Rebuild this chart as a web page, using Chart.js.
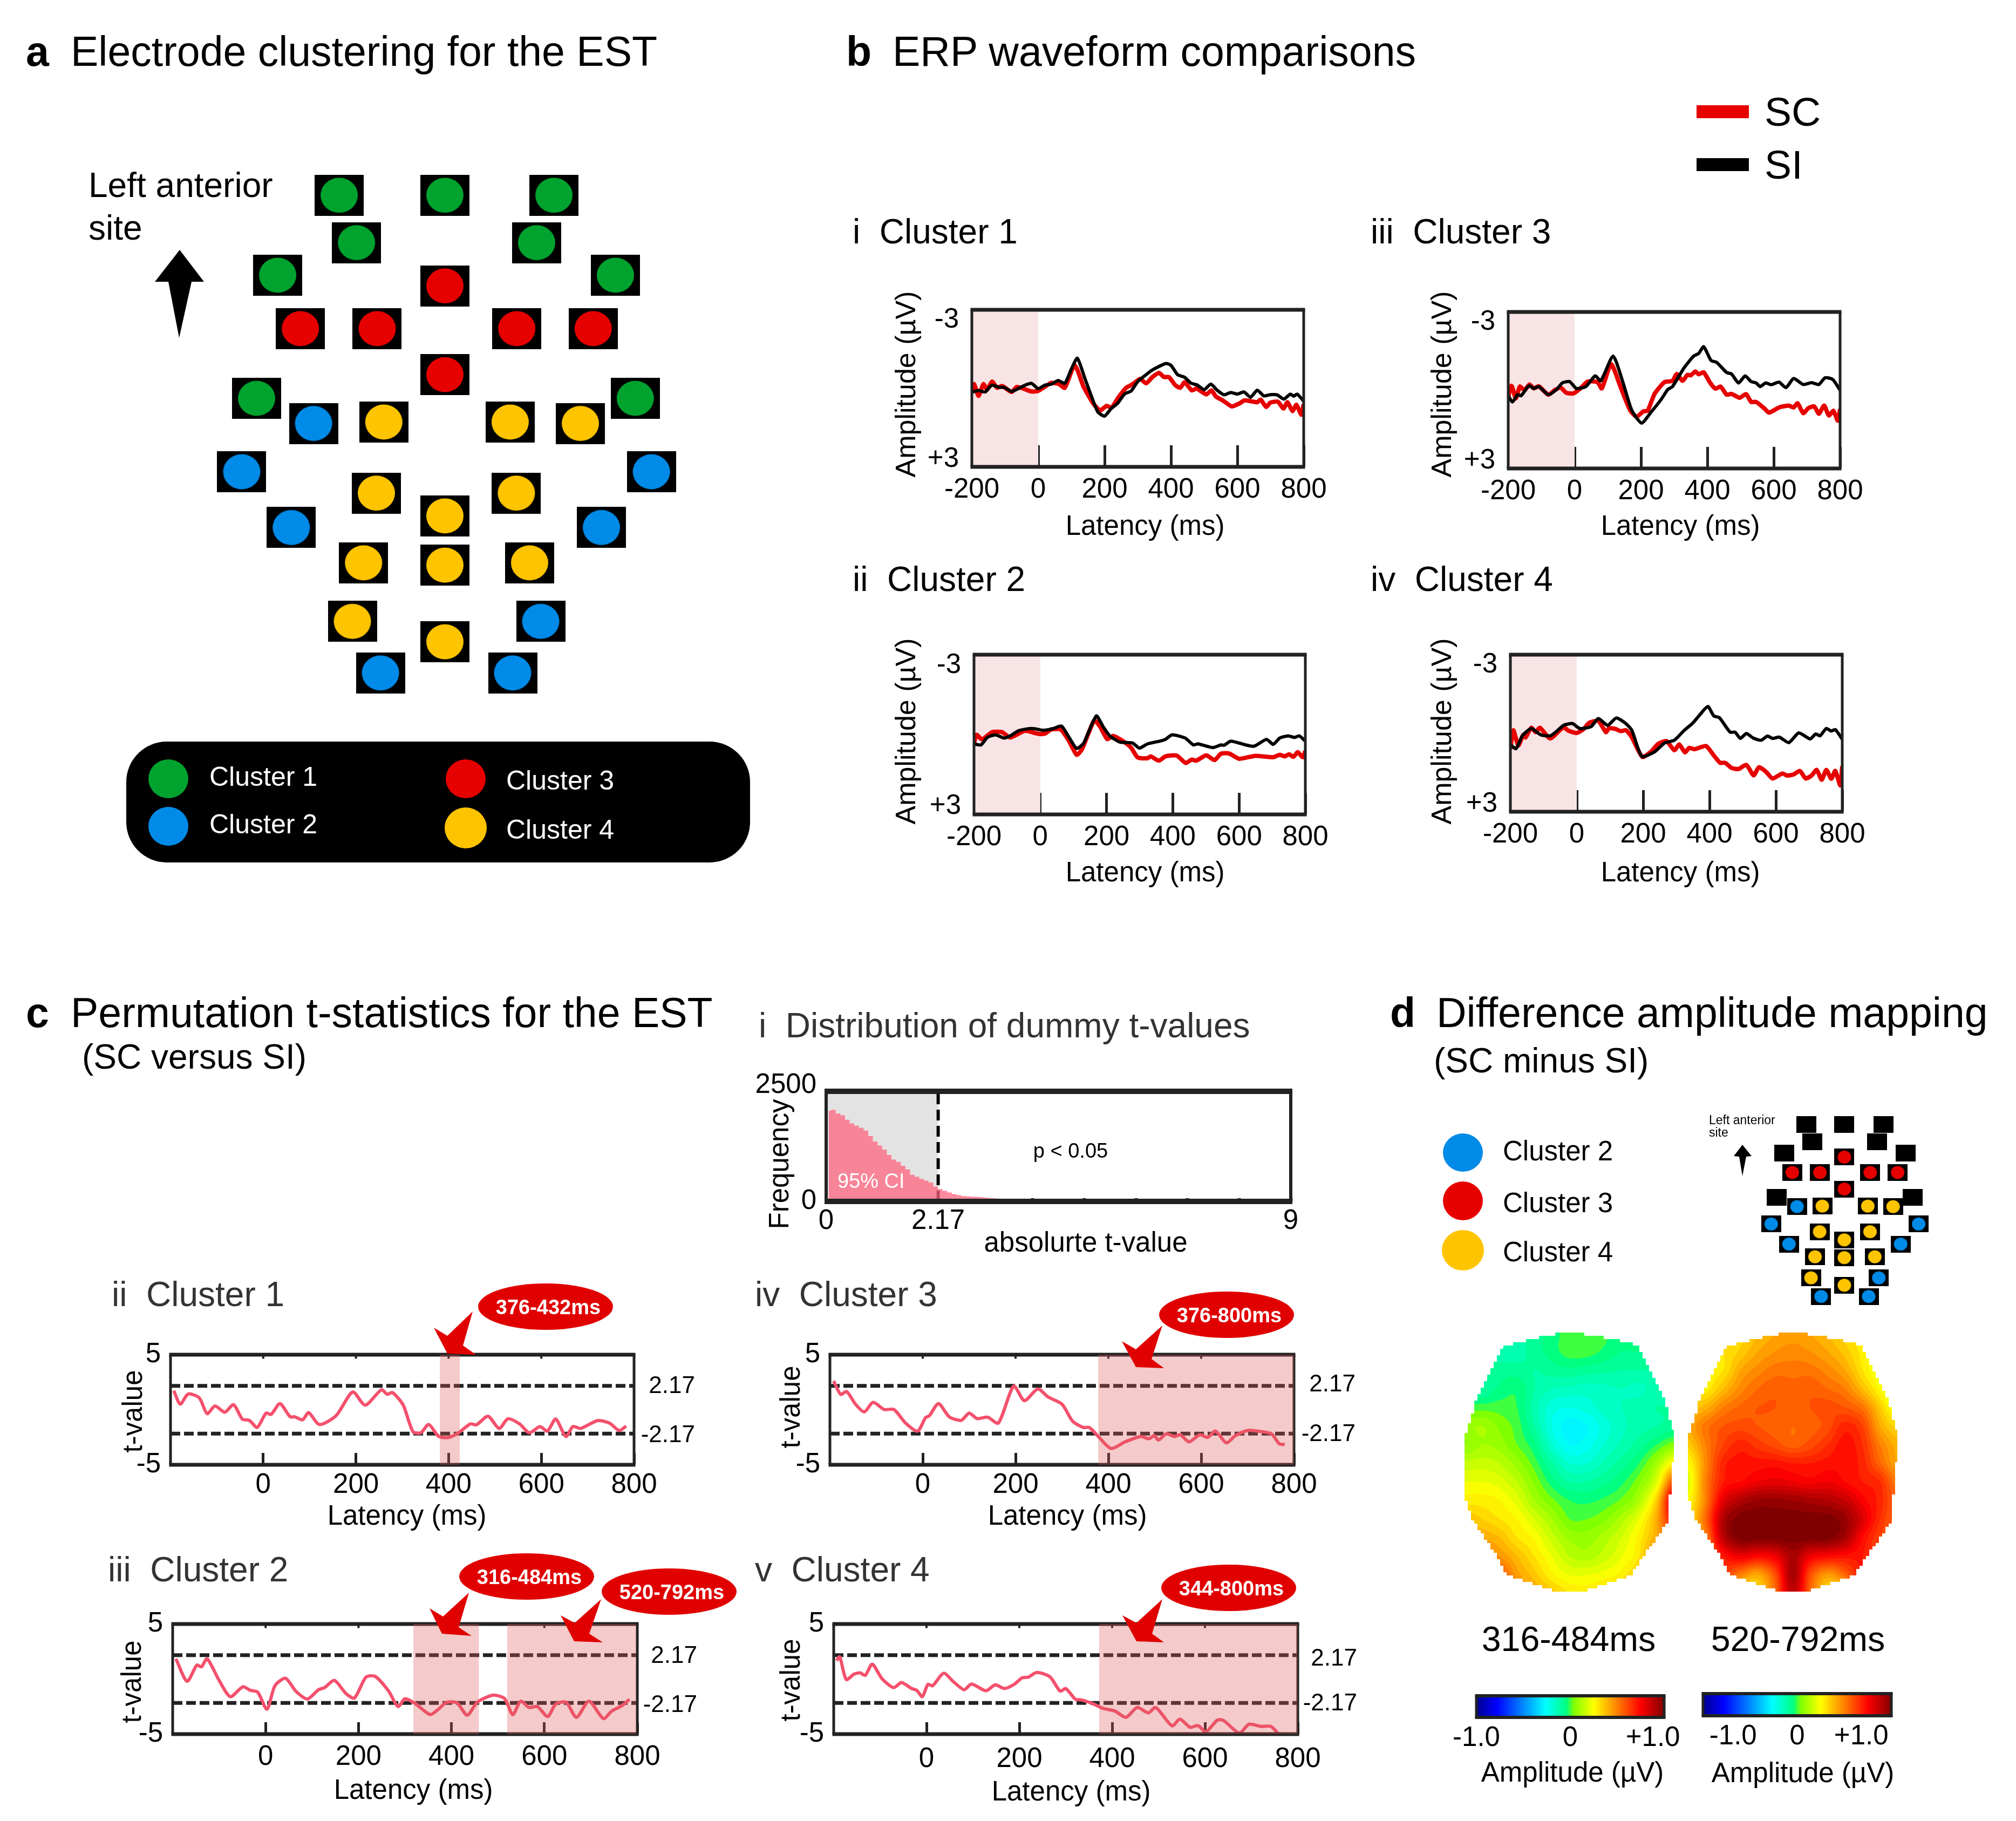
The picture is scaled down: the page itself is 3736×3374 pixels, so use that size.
<!DOCTYPE html>
<html>
<head>
<meta charset="utf-8">
<script src="https://cdn.jsdelivr.net/npm/chart.js@4"></script>
<style>
    html, body { margin: 0; padding: 0; background: #fff; }
    #page { position: relative; width: 3736px; height: 3374px; overflow: hidden; font-family: "Liberation Sans", Arial, sans-serif; }
    #page canvas { position: absolute; }
    .txt { position: absolute; white-space: pre; line-height: 1; z-index: 5; }
    svg { position: absolute; left: 0; top: 0; z-index: 4; }
</style>
</head>
<body>
<div id="page"></div>
<script>
// ---- panel b: ERP waveforms, [latency ms, amplitude uV] ----
const erp1Si = [[-200,.15],[-180,.08],[-160,.14],[-140,-.12],[-120,-.05],[-100,-.02],[-80,.12],[-60,.01],[-40,-.12],[-20,-.19],[0,.01],[20,-.12],[40,-.16],[60,-.3],[80,-.19],[100,-.74],[118,-1.15],[140,-.4],[160,.29],[180,.91],[200,1.06],[220,.77],[240,.56],[260,.22],[280,.1],[300,-.26],[320,-.47],[340,-.67],[360,-.81],[385,-.95],[400,-.88],[420,-.52],[440,-.43],[460,-.2],[480,-.12],[500,.05],[520,-.16],[540,.08],[560,.25],[580,.16],[600,.22],[620,.14],[640,.34],[660,.07],[680,.29],[700,.24],[720,.25],[740,.41],[760,.22],[770,.3],[780,.22],[800,.49]];
const erp1Sc = [[-200,.15],[-193,-.16],[-180,.29],[-165,-.16],[-154,.05],[-139,-.26],[-124,-.02],[-109,-.09],[-80,.14],[-65,-.05],[-45,.01],[-21,.12],[-1,.1],[19,-.05],[39,-.21],[63,-.16],[80,-.02],[110,-.88],[137,-.05],[167,.6],[187,.84],[206,.67],[221,.74],[241,.36],[265,-.02],[285,-.16],[307,-.36],[325,-.19],[344,-.43],[364,-.59],[379,-.43],[394,-.43],[413,-.12],[428,-.02],[441,-.23],[463,.08],[477,.01],[507,.23],[522,.08],[536,.32],[556,.46],[583,.69],[606,.58],[622,.46],[660,.53],[670,.43],[687,.71],[699,.55],[722,.51],[739,.77],[751,.53],[766,.87],[778,.63],[793,1.01],[800,.6]];
const erp2Si = [[-200,.35],[-179,.39],[-160,.11],[-135,.01],[-110,.13],[-91,.05],[-66,-.14],[-36,-.22],[-17,-.22],[8,-.16],[38,-.22],[64,-.32],[87,.11],[110,.52],[131,.32],[169,-.7],[190,-.29],[210,.05],[240,.28],[279,.32],[299,.51],[324,.35],[363,.24],[378,.18],[398,.01],[437,.13],[462,.39],[476,.35],[521,.49],[545,.39],[555,.4],[575,.25],[600,.32],[644,.44],[683,.18],[703,.37],[723,.13],[748,.05],[767,.11],[782,.05],[800,.25]];
const erp2Sc = [[-200,.32],[-192,.01],[-176,.18],[-145,-.09],[-115,-.09],[-91,.11],[-46,-.14],[-7,-.03],[13,-.03],[33,-.19],[62,-.19],[87,.25],[110,.76],[126,.55],[163,-.53],[181,-.29],[202,.17],[220,.05],[250,.25],[274,.49],[294,.86],[324,.89],[333,.82],[358,.98],[378,.82],[412,.79],[439,1.07],[457,.94],[471,.98],[501,.78],[526,.96],[545,.72],[570,.71],[600,.91],[649,.8],[703,.85],[723,.76],[738,.82],[751,.74],[764,.84],[777,.66],[792,.85],[800,.62]];
const erp3Si = [[-200,.21],[-187,.45],[-172,.17],[-161,.21],[-138,-.17],[-123,-.07],[-108,-.14],[-79,.17],[-54,-.03],[-37,-.28],[-15,-.33],[5,-.07],[34,-.14],[62,-.55],[79,-.36],[116,-1.31],[143,-.41],[172,.76],[202,1.26],[231,.83],[261,.35],[281,-.03],[295,-.14],[330,-.86],[359,-1.31],[374,-1.41],[389,-1.67],[411,-1.14],[428,-1.07],[458,-.68],[473,-.62],[494,-.28],[514,-.55],[532,-.33],[547,-.28],[559,-.14],[576,-.28],[593,-.21],[616,-.31],[637,-.1],[660,-.45],[689,-.22],[714,-.29],[736,-.22],[755,-.48],[778,-.41],[800,0]];
const erp3Sc = [[-200,.24],[-190,-.17],[-177,.31],[-165,-.14],[-151,0],[-136,-.22],[-123,-.07],[-108,-.15],[-79,.17],[-59,-.01],[-42,-.1],[-25,.1],[-3,.12],[20,-.1],[39,-.33],[69,-.31],[82,-.07],[110,-1],[138,-.14],[167,.76],[187,1.02],[207,.81],[220,.79],[241,.14],[271,-.31],[295,-.36],[308,-.62],[325,-.36],[340,-.59],[350,-.57],[364,-.72],[374,-.61],[389,-.69],[407,-.31],[424,-.06],[440,-.14],[458,.17],[473,.14],[497,.29],[517,.15],[532,.45],[547,.45],[571,.69],[586,.86],[616,.66],[645,.59],[660,.66],[672,.5],[689,.88],[704,.69],[722,.62],[736,.9],[752,.59],[766,.97],[780,.79],[793,1.17],[800,.72]];
const erp4Si = [[-200,.44],[-183,.59],[-164,.1],[-137,-.18],[-109,.06],[-80,.1],[-60,-.08],[-40,-.3],[-13,-.37],[9,-.18],[43,-.25],[65,-.56],[93,-.3],[119,-.58],[147,-.38],[166,-.11],[196,.89],[235,.71],[265,.37],[294,.27],[324,-.11],[349,-.38],[368,-.66],[395,-1.02],[413,-.66],[430,-.59],[462,-.04],[477,-.04],[493,.2],[511,.01],[531,.18],[555,.27],[575,.11],[590,.2],[610,.15],[639,.36],[669,-.01],[703,.22],[720,.03],[733,.1],[752,-.18],[767,-.08],[779,-.14],[800,.23]];
const erp4Sc = [[-200,.61],[-191,-.11],[-176,.47],[-161,.06],[-154,.16],[-137,-.21],[-124,-.04],[-111,-.21],[-80,.2],[-40,-.23],[-26,-.1],[-1,-.01],[19,-.14],[38,-.4],[65,-.47],[88,-.04],[97,-.19],[117,-.16],[132,-.08],[149,-.11],[166,.16],[198,.91],[226,.68],[245,.41],[270,.3],[294,.65],[309,.43],[326,.73],[339,.56],[354,.61],[368,.56],[390,.49],[413,.85],[432,1.13],[447,1.13],[467,1.33],[487,1.37],[511,1.21],[533,1.61],[549,1.3],[570,1.47],[590,1.73],[620,1.54],[634,1.62],[654,1.57],[672,1.44],[690,1.73],[708,1.61],[723,1.4],[738,1.78],[752,1.4],[767,1.74],[779,1.44],[794,1.99],[800,1.26]];
const erpXTicks = [-200, 0, 200, 400, 600, 800];
const erpBaseline = [[-200, 0]];

// ---- panel c: permutation t-values ----
const tClu1 = [[-193,1.73],[-179,.51],[-162,1.43],[-138,1.08],[-121,-.36],[-104,.34],[-83,-.23],[-64,.46],[-45,-.85],[-30,-.96],[-13,-1.61],[6,-.31],[17,-.42],[36,.55],[58,-.64],[68,-.64],[85,-.91],[98,-.26],[121,-1.34],[157,-.55],[193,1.61],[220,.42],[255,1.81],[268,1.4],[279,1.56],[302,.42],[323,-1.99],[340,-2.1],[357,-1.34],[379,-2.43],[400,-2.51],[421,-2.1],[447,-1.29],[460,-1.37],[485,-.59],[509,-1.7],[528,-.82],[553,-1.29],[574,-2.1],[597,-1.53],[613,-1.94],[631,-.85],[653,-2.43],[668,-1.53],[685,-1.7],[721,-.99],[747,-1.21],[768,-1.89],[783,-1.48]];
const tClu2 = [[-193,1.84],[-169,-.2],[-148,1.27],[-138,1.11],[-126,1.84],[-100,-.12],[-76,-1.6],[-49,-.7],[-33,-1.02],[-17,-1.19],[3,-2.74],[20,-.61],[43,.07],[65,-1.1],[90,-1.81],[114,-.97],[127,-.78],[148,-.12],[172,-1.27],[191,-1.73],[216,.17],[236,.24],[265,-1.1],[285,-2.5],[300,-1.79],[323,-2.25],[354,-3.23],[372,-2.74],[389,-2.12],[412,-2.17],[434,-3.28],[456,-2.09],[489,-1.47],[514,-1.76],[532,-3.23],[549,-2.01],[567,-2.58],[585,-2.5],[607,-3.4],[625,-2.25],[647,-2.12],[669,-3.48],[696,-2.01],[727,-3.59],[745,-2.91],[767,-2.41],[783,-1.84]];
const tClu3 = [[-192,2.62],[-177,1.4],[-164,1.65],[-145,.51],[-126,-.2],[-107,.67],[-83,.02],[-62,.02],[-37,-1.21],[-11,-1.94],[6,-.72],[14,-.55],[34,.55],[57,-.64],[83,-.96],[100,-.31],[117,-.8],[140,-.68],[163,-1.21],[196,2.14],[219,.83],[248,1.89],[270,1.16],[300,.51],[323,-1.04],[346,-1.61],[359,-1.61],[380,-2.51],[406,-3.52],[436,-2.92],[470,-2.43],[487,-2.64],[499,-2.35],[508,-2.75],[525,-2.18],[542,-2.43],[555,-2.27],[574,-2.92],[597,-2.27],[614,-2.51],[631,-1.94],[654,-3],[674,-2.35],[700,-1.89],[721,-1.94],[751,-2.18],[768,-3.08],[780,-3.16]];
const tClu4 = [[-194,1.68],[-187,2.01],[-173,-.04],[-156,.45],[-143,.56],[-132,.34],[-117,1.35],[-96,.04],[-71,-.78],[-54,-.32],[-32,-.86],[-21,-1.02],[-9,-1.6],[3,-.48],[13,-.61],[37,.53],[57,-.2],[81,-.97],[97,-.45],[128,-1.06],[148,-.53],[168,-.86],[189,-.48],[206,.12],[219,.17],[238,.6],[266,.2],[288,-1.1],[300,-.86],[321,-1.84],[334,-1.89],[359,-2.25],[380,-2.66],[406,-2.91],[430,-3.48],[454,-2.58],[478,-3.07],[494,-2.58],[529,-4.25],[546,-3.64],[568,-4.38],[585,-4.22],[602,-4.79],[627,-3.72],[640,-3.76],[674,-4.9],[695,-4.1],[721,-4.3],[742,-4.3],[759,-5]];
const tThresholds = [2.17, -2.17];
const tXTicks = [0, 200, 400, 600, 800];
const tBandsClu1 = [[381, 424]];
const tBandsClu2 = [[318, 459], [520, 798]];
const tBandsClu3 = [[378, 800]];
const tBandsClu4 = [[372, 800]];

// ---- panel c i: histogram of dummy t-values ----
const histBins = [0.05,0.14,0.23,0.32,0.41,0.5,0.59,0.68,0.77,0.86,0.95,1.04,1.13,1.22,1.31,1.4,1.49,1.58,1.67,1.76,1.85,1.94,2.03,2.12,2.21,2.3,2.39,2.48,2.57,2.66,2.75,2.84,2.93,3.02,3.11,3.2,3.29,3.38,3.47,3.56,3.65,3.74,3.83,3.92,4.01,4.1,4.19,4.28,4.37,4.46,4.55,4.64,4.73,4.82,5,5.5,6,7,8,9];
const histCounts = [2058,2079,1997,1956,1853,1771,1718,1669,1607,1484,1361,1267,1177,1054,951,898,808,726,603,562,513,472,430,336,283,242,201,164,144,123,115,107,103,94,82,74,66,57,49,45,41,37,33,29,27,25,23,21,19,17,16,14,13,12,10,6,4,2,1,0];
const histXTicks = [0,1,2,2.17,4,5,6,7,8,9];
const histYTicks = [0,500,1000,1500,2000];

// ---- panel a: electrode positions on the cap ----
const clusterGreen = [[560,95],[816,95],[1080,95],[602,197],[1038,197],[411,267],[1229,267],[360,532],[1277,532]];
const clusterRed = [[816,290],[466,382],[652,382],[990,382],[1175,382],[816,481]];
const clusterBlue = [[498,586],[324,690],[1316,690],[444,810],[1195,810],[1048,1012],[660,1123],[980,1123]];
const clusterYellow = [[668,583],[974,583],[1144,586],[650,736],[989,736],[816,785],[619,886],[816,891],[1021,886],[592,1012],[816,1056]];

// ---- panel d: amplitude maps, uV on a 13 x 15 grid ----
const topoEarly = [
    [-.1,-.1,-.1,-.1,-.08,-.04,0,.02,-.01,-.04,-.05,-.06,-.06],
    [-.1,-.1,-.12,-.12,-.08,-.04,0,0,-.03,-.06,-.06,-.08,-.08],
    [-.1,-.1,-.08,-.08,-.1,-.08,-.07,-.08,-.09,-.1,-.1,-.1,-.1],
    [-.1,-.1,-.05,-.03,-.1,-.14,-.15,-.16,-.15,-.14,-.15,-.12,-.12],
    [0,0,0,-.02,-.12,-.2,-.22,-.2,-.16,-.14,-.12,-.1,-.1],
    [.08,.1,.05,0,-.1,-.22,-.28,-.26,-.2,-.15,-.12,-.1,-.08],
    [.06,.1,.08,.02,-.05,-.18,-.26,-.24,-.18,-.13,-.08,-.02,.05],
    [.15,.16,.14,.08,0,-.1,-.18,-.18,-.13,-.08,-.02,.1,.28],
    [.22,.22,.2,.14,.05,-.04,-.1,-.1,-.07,-.03,.05,.2,.6],
    [.28,.28,.26,.2,.1,.03,-.02,-.03,-.01,.03,.12,.35,.85],
    [.38,.34,.3,.26,.18,.1,.02,.02,.05,.12,.22,.42,.75],
    [.42,.42,.38,.3,.25,.16,.09,.08,.12,.18,.28,.42,.6],
    [.5,.5,.46,.38,.3,.22,.14,.12,.16,.22,.3,.55,.7],
    [.6,.6,.58,.44,.36,.27,.22,.22,.24,.28,.4,.72,.8],
    [.6,.6,.58,.48,.42,.36,.3,.28,.32,.36,.5,.7,.8]
];
const topoLate = [
    [.3,.3,.3,.32,.38,.42,.44,.42,.38,.32,.26,.22,.2],
    [.28,.28,.3,.35,.42,.46,.48,.46,.42,.36,.28,.2,.15],
    [.28,.28,.3,.42,.48,.52,.52,.52,.48,.42,.3,.2,.12],
    [.28,.28,.38,.48,.54,.57,.56,.57,.54,.5,.38,.25,.12],
    [.35,.4,.5,.55,.58,.58,.56,.58,.6,.58,.52,.35,.2],
    [.42,.52,.58,.6,.58,.56,.54,.56,.6,.68,.62,.42,.32],
    [.35,.5,.62,.68,.64,.6,.56,.6,.66,.72,.66,.5,.4],
    [.25,.48,.68,.72,.72,.72,.7,.7,.72,.73,.68,.55,.42],
    [.2,.5,.7,.74,.78,.8,.78,.76,.78,.74,.7,.66,.5],
    [.25,.5,.8,.9,.95,.95,.94,.92,.9,.86,.76,.68,.55],
    [.3,.55,.9,1,1,1,1,1,1,.95,.82,.66,.55],
    [.35,.5,.88,1,1,1,1,1,1,.92,.74,.62,.55],
    [.35,.5,.7,.78,.74,.78,.92,.78,.74,.72,.7,.6,.5],
    [.35,.5,.62,.5,.42,.6,.92,.6,.45,.55,.7,.6,.5],
    [.35,.5,.5,.32,.32,.55,.88,.55,.32,.32,.6,.6,.5]
];
const headOutline = [[5.43,.04],[4.54,.19],[2.76,.61],[2.17,.74],[.59,3.7],[.39,4.63],[0,5.65],[0,8.89],[.49,10.09],[1.78,11.85],[2.47,13.06],[3.95,13.52],[5.53,13.98],[6.51,13.98],[7.89,13.57],[9.47,13.09],[10.07,12.31],[11.74,10],[11.84,6.94],[12,6.94],[12,5.28],[11.45,3.61],[10.07,1.02],[9.87,.65],[8.09,.28],[6.71,.06]];
const jetStops = [[0,'#00008f'],[.11,'#0000ff'],[.37,'#00ffff'],[.48,'#00ff80'],[.52,'#80ff00'],[.625,'#ffff00'],[.875,'#ff0000'],[1,'#800000']];

const FONT = '"Liberation Sans", Arial, sans-serif';
const INK = '#222';
const RED = '#e60000';
const PINK = '#f4506c';
const page = document.getElementById('page');

Chart.defaults.font.family = FONT;
Chart.defaults.color = '#000';
Chart.defaults.animation = false;
Chart.defaults.responsive = false;
Chart.defaults.devicePixelRatio = 1;

function addText (text, x, y, size, opts = {}) {
    const el = document.createElement('div');
    el.className = 'txt';
    el.textContent = text;
    el.style.left = x + 'px';
    el.style.top = y + 'px';
    el.style.fontSize = size + 'px';
    el.style.color = opts.color || '#000';
    if (opts.bold) el.style.fontWeight = 'bold';
    const shift = opts.anchor === 'end' ? '-100%' : opts.anchor === 'middle' ? '-50%' : '0';
    el.style.transform = `translate(${shift}, -50%)` + (opts.rotate ? ` rotate(${opts.rotate}deg)` : '');
    page.appendChild(el);
}

function addCanvas (left, top, width, height) {
    const canvas = document.createElement('canvas');
    canvas.width = width;
    canvas.height = height;
    canvas.style.left = left + 'px';
    canvas.style.top = top + 'px';
    canvas.style.width = width + 'px';
    canvas.style.height = height + 'px';
    page.appendChild(canvas);
    return canvas;
}

// frame of each axes box plus the shaded latency windows
function drawBands (chart, opts, over) {
    if (!opts.bands || !!opts.bandsOver !== over) return;
    const { ctx, chartArea, scales } = chart;
    ctx.save();
    ctx.fillStyle = opts.bandColor;
    opts.bands.forEach(([from, to]) => {
        const a = scales.x.getPixelForValue(from);
        const b = scales.x.getPixelForValue(to);
        ctx.fillRect(a, chartArea.top, b - a, chartArea.bottom - chartArea.top);
    });
    ctx.restore();
}

Chart.register({
    id: 'panelFrame',
    beforeDatasetsDraw (chart, args, opts) {
        drawBands(chart, opts, false);
    },
    afterDatasetsDraw (chart, args, opts) {
        if (!opts.frame) return;
        const { ctx, chartArea: { left, right, top, bottom }, scales } = chart;
        ctx.save();
        ctx.fillStyle = INK;
        const [thick, thin] = opts.frame;
        ctx.fillRect(left - thin / 2, top - thick / 2, right - left + thin, thick);
        ctx.fillRect(left - thin / 2, bottom - thick / 2, right - left + thin, thick);
        ctx.fillRect(left - thin / 2, top, thin, bottom - top);
        ctx.fillRect(right - thin / 2, top, thin, bottom - top);
        (opts.topTicks || []).forEach((value) => {
            ctx.fillRect(scales.x.getPixelForValue(value) - 2, top, 4, thick / 2 + 4);
        });
        ctx.restore();
    },
    afterDraw (chart, args, opts) {
        drawBands(chart, opts, true);
    }
});

function toPoints (pairs) {
    return pairs.map(p => ({ x: p[0], y: p[1] }));
}

function boxAxis (base, forced, key) {
    return Object.assign(base, {
        afterFit: (scale) => {
            scale[key] = forced;
            scale.paddingLeft = scale.paddingRight = scale.paddingTop = scale.paddingBottom = 0;
        }
    });
}

function axesPlot (cfg) {
    const [l, t, r, b] = cfg.rect;
    const yW = cfg.yW;
    const xH = cfg.xH;
    const ML = yW + 10;
    const MT = 60;
    const MR = 80;
    const MB = xH + 10;
    const canvas = addCanvas(l - ML, t - MT, r - l + ML + MR, b - t + MT + MB);
    return new Chart(canvas, {
        type: 'line',
        data: { datasets: cfg.datasets },
        options: {
            layout: { autoPadding: false, padding: { left: 10, top: MT, right: MR, bottom: 10 } },
            elements: { point: { radius: 0 } },
            plugins: {
                legend: { display: false },
                tooltip: { enabled: false },
                panelFrame: cfg.frameOpts
            },
            scales: {
                x: boxAxis({
                    type: 'linear',
                    min: cfg.xRange[0],
                    max: cfg.xRange[1],
                    afterBuildTicks: (scale) => { scale.ticks = cfg.xTicks.map(value => ({ value })); },
                    border: { display: false },
                    grid: { drawOnChartArea: false, tickLength: -cfg.xTickLen, tickWidth: cfg.xTickWidth || 5, tickColor: INK },
                    ticks: {
                        autoSkip: false, maxRotation: 0, minRotation: 0, padding: cfg.xTickPad,
                        font: { size: 51 }, color: '#000',
                        callback: cfg.xLabel || (value => String(value))
                    }
                }, xH, 'height'),
                y: boxAxis({
                    type: 'linear',
                    reverse: !!cfg.yReverse,
                    min: cfg.yRange[0],
                    max: cfg.yRange[1],
                    afterBuildTicks: (scale) => { scale.ticks = cfg.yTicks.map(value => ({ value })); },
                    border: { display: false },
                    grid: {
                        drawOnChartArea: false,
                        tickLength: -(cfg.yTickLen || 0),
                        tickWidth: 7,
                        tickColor: ctx => (ctx.tick.value > cfg.yRange[1] ? 'rgba(0,0,0,0)' : INK),
                        drawTicks: !!cfg.yTickLen
                    },
                    ticks: {
                        autoSkip: false, padding: cfg.yTickPad,
                        font: { size: 51 }, color: '#000',
                        callback: cfg.yLabel
                    }
                }, yW, 'width')
            }
        }
    });
}

function erpLine (pairs, color, width) {
    return { data: toPoints(pairs), borderColor: color, borderWidth: width, tension: .2, borderJoinStyle: 'round', fill: false };
}

function erpPanel (rect, si, sc) {
    axesPlot({
        rect, yW: 153, xH: 90,
        xRange: [-200, 800], xTicks: erpXTicks, xTickLen: 40, xTickPad: 52,
        yRange: [-3, 3], yReverse: true, yTicks: [-2.6, 2.7], yTickPad: 24,
        yLabel: value => (value < 0 ? '-3' : '+3'),
        frameOpts: { frame: [7, 5], bands: erpBaseline, bandColor: '#f9e4e5' },
        datasets: [erpLine(si, '#000', 6), erpLine(sc, RED, 8)]
    });
}

function thresholdLine (value) {
    return {
        data: [{ x: -200, y: value }, { x: 800, y: value }],
        borderColor: INK, borderWidth: 7, borderDash: [18, 7], fill: false
    };
}

function tPanel (rect, curve, bands, xTickPad) {
    axesPlot({
        rect, yW: 100, xH: 90,
        xRange: [-200, 800], xTicks: tXTicks, xTickLen: 22, xTickPad,
        yRange: [-5, 5], yTicks: [-5, 5], yTickPad: 18,
        yLabel: value => String(value),
        frameOpts: { frame: [7, 5], bands, bandsOver: true, bandColor: 'rgba(222, 90, 90, .32)', topTicks: tXTicks.slice(0, 4) },
        datasets: [
            { data: toPoints(curve), borderColor: PINK, borderWidth: 6, tension: .25, fill: false },
            thresholdLine(tThresholds[0]),
            thresholdLine(tThresholds[1])
        ]
    });
}

// ---- electrode caps: sprites used as the scatter point style ----
function electrodeSprite (w, h, color, ew, eh) {
    const c = document.createElement('canvas');
    c.width = w;
    c.height = h;
    const g = c.getContext('2d');
    g.fillStyle = '#000';
    g.fillRect(0, 0, w, h);
    if (color) {
        g.fillStyle = color;
        g.beginPath();
        g.ellipse(w / 2, h / 2, ew / 2, eh / 2, 0, 0, Math.PI * 2);
        g.fill();
    }
    return c;
}

function capChart (left, top, width, height, sprites) {
    const canvas = addCanvas(left, top, width, height);
    const groups = [[clusterGreen, sprites.green], [clusterRed, sprites.red], [clusterBlue, sprites.blue], [clusterYellow, sprites.yellow]];
    new Chart(canvas, {
        type: 'scatter',
        data: {
            datasets: groups.map(([points, sprite]) => ({
                data: toPoints(points), pointStyle: sprite, pointRadius: 10, clip: false
            }))
        },
        options: {
            layout: { autoPadding: false },
            plugins: { legend: { display: false }, tooltip: { enabled: false } },
            scales: {
                x: { display: false, min: 0, max: 1568 },
                y: { display: false, min: 0, max: 1568, reverse: true }
            }
        }
    });
}

// ---- amplitude maps ----
function hexToRgb (hex) {
    return [1, 3, 5].map(i => parseInt(hex.slice(i, i + 2), 16));
}

function jetColor (t) {
    for (let i = 1; i < jetStops.length; i++) {
        if (t <= jetStops[i][0]) {
            const [p0, c0] = jetStops[i - 1];
            const [p1, c1] = jetStops[i];
            const f = p1 > p0 ? (t - p0) / (p1 - p0) : 0;
            const a = hexToRgb(c0);
            const b = hexToRgb(c1);
            return a.map((v, k) => v + (b[k] - v) * f);
        }
    }
    return hexToRgb(jetStops[jetStops.length - 1][1]);
}

function catmull (p0, p1, p2, p3, f) {
    return .5 * (2 * p1 + (p2 - p0) * f + (2 * p0 - 5 * p1 + 4 * p2 - p3) * f * f + (3 * p1 - p0 - 3 * p2 + p3) * f * f * f);
}

function sampleGrid (grid, gx, gy) {
    const clampX = i => Math.min(grid[0].length - 1, Math.max(0, i));
    const clampY = i => Math.min(grid.length - 1, Math.max(0, i));
    const ix = Math.floor(gx);
    const iy = Math.floor(gy);
    const rows = [-1, 0, 1, 2].map((dy) => {
        const row = grid[clampY(iy + dy)];
        return catmull(row[clampX(ix - 1)], row[clampX(ix)], row[clampX(ix + 1)], row[clampX(ix + 2)], gx - ix);
    });
    return catmull(rows[0], rows[1], rows[2], rows[3], gy - iy);
}

const topoPlugin = {
    id: 'topoShade',
    beforeDatasetsDraw (chart) {
        const { ctx, chartArea: { left, top, right, bottom }, scales: { x, y } } = chart;
        const grid = chart.options.plugins.topoShade.grid;
        const w = Math.round(right - left);
        const h = Math.round(bottom - top);
        const outline = new Path2D();
        headOutline.forEach((p, i) => {
            const px = x.getPixelForValue(p[0]) - left;
            const py = y.getPixelForValue(p[1]) - top;
            if (i === 0) outline.moveTo(px, py); else outline.lineTo(px, py);
        });
        outline.closePath();
        const img = ctx.createImageData(w, h);
        const step = 6;
        const inside = {};
        for (let j = 0; j < h; j++) {
            for (let i = 0; i < w; i++) {
                const bx = Math.floor(i / step) * step + step / 2;
                const by = Math.floor(j / step) * step + step / 2;
                const key = bx + '_' + by;
                if (inside[key] === undefined) inside[key] = ctx.isPointInPath(outline, bx, by);
                if (!inside[key]) continue;
                const value = sampleGrid(grid, x.getValueForPixel(left + i), y.getValueForPixel(top + j));
                const level = Math.round(value / .04) * .04;
                const rgb = jetColor(Math.min(1, Math.max(0, (level + 1) / 2)));
                const o = (j * w + i) * 4;
                img.data[o] = rgb[0];
                img.data[o + 1] = rgb[1];
                img.data[o + 2] = rgb[2];
                img.data[o + 3] = 255;
            }
        }
        ctx.putImageData(img, left, top);
    }
};

function topoChart (left, top, grid) {
    const canvas = addCanvas(left, top, 388, 483);
    new Chart(canvas, {
        type: 'scatter',
        data: { datasets: [{ data: toPoints(headOutline), pointRadius: 0 }] },
        options: {
            layout: { autoPadding: false },
            plugins: { legend: { display: false }, tooltip: { enabled: false }, topoShade: { grid } },
            scales: {
                x: { display: false, min: 0, max: 12 },
                y: { display: false, min: 0, max: 14, reverse: true }
            }
        },
        plugins: [topoPlugin]
    });
}

function colorBar (rect, range, ticks, labelled, hiddenTicks) {
    const [l, t, r, b] = rect;
    const canvas = addCanvas(l - 60, t - 10, r - l + 120, b - t + 80);
    new Chart(canvas, {
        type: 'bar',
        data: {
            labels: ['Amplitude'],
            datasets: [{
                data: [range],
                barPercentage: 1,
                categoryPercentage: 1,
                backgroundColor: (ctx) => {
                    const area = ctx.chart.chartArea;
                    if (!area) return '#000';
                    const g = ctx.chart.ctx.createLinearGradient(area.left, 0, area.right, 0);
                    jetStops.forEach(([p, c]) => g.addColorStop(p, c));
                    return g;
                }
            }]
        },
        options: {
            indexAxis: 'y',
            layout: { padding: { left: 60, top: 10, right: 60, bottom: 0 } },
            plugins: { legend: { display: false }, tooltip: { enabled: false }, panelFrame: { frame: [6, 5] } },
            scales: {
                y: { display: false },
                x: boxAxis({
                    type: 'linear',
                    min: range[0],
                    max: range[1],
                    afterBuildTicks: (scale) => { scale.ticks = ticks.map(value => ({ value })); },
                    border: { display: false },
                    grid: {
                        drawOnChartArea: false, tickLength: -8, tickWidth: 3,
                        tickColor: ctx => (hiddenTicks.includes(ctx.tick.value) ? 'rgba(0,0,0,0)' : INK)
                    },
                    ticks: {
                        autoSkip: false, maxRotation: 0, minRotation: 0, padding: 16,
                        font: { size: 51 }, color: '#000',
                        callback: value => labelled[value] || ''
                    }
                }, 70, 'height')
            }
        }
    });
}

// ---- page ----
// panel headings
addText('a', 48, 95, 77, { bold: true });
addText('Electrode clustering for the EST', 131, 95, 77);
addText('b', 1568, 95, 77, { bold: true });
addText('ERP waveform comparisons', 1654, 95, 77);
addText('c', 48, 1876, 77, { bold: true });
addText('Permutation t-statistics for the EST', 131, 1876, 77);
addText('(SC versus SI)', 152, 1958, 64);
addText('d', 2576, 1876, 77, { bold: true });
addText('Difference amplitude mapping', 2662, 1876, 77);
addText('(SC minus SI)', 2657, 1965, 64);

// panel a
addText('Left anterior', 164, 343, 64);
addText('site', 164, 422, 64);
const capSprites = {
    green: electrodeSprite(91, 76, '#00a32e', 69, 65),
    red: electrodeSprite(91, 76, '#e60000', 69, 65),
    blue: electrodeSprite(91, 76, '#008be8', 69, 65),
    yellow: electrodeSprite(91, 76, '#ffc400', 69, 65)
};
capChart(200, 280, 1200, 1350, capSprites);

const legendBox = document.createElement('div');
legendBox.style.cssText = 'position:absolute;left:234px;top:1374px;width:1156px;height:224px;border-radius:75px;background:#000;';
page.appendChild(legendBox);
function legendDot (cx, cy, color, w, h) {
    const dot = document.createElement('div');
    dot.style.cssText = `position:absolute;z-index:5;left:${cx - w / 2}px;top:${cy - h / 2}px;width:${w}px;height:${h}px;border-radius:50%;background:${color};`;
    page.appendChild(dot);
}
legendDot(312, 1443, '#00a32e', 74, 72);
legendDot(312, 1531, '#008be8', 74, 72);
legendDot(863, 1443, '#e60000', 74, 72);
legendDot(863, 1534, '#ffc400', 78, 76);
addText('Cluster 1', 388, 1439, 50, { color: '#fff' });
addText('Cluster 2', 388, 1527, 50, { color: '#fff' });
addText('Cluster 3', 938, 1446, 50, { color: '#fff' });
addText('Cluster 4', 938, 1537, 50, { color: '#fff' });

// panel b
const bar1 = document.createElement('div');
bar1.style.cssText = `position:absolute;left:3144px;top:195px;width:97px;height:24px;background:${RED};`;
page.appendChild(bar1);
const bar2 = document.createElement('div');
bar2.style.cssText = 'position:absolute;left:3144px;top:293px;width:97px;height:24px;background:#000;';
page.appendChild(bar2);
addText('SC', 3270, 207, 75);
addText('SI', 3270, 305, 75);
addText('i  Cluster 1', 1580, 429, 64);
addText('iii  Cluster 3', 2540, 429, 64);
addText('ii  Cluster 2', 1580, 1073, 64);
addText('iv  Cluster 4', 2540, 1073, 64);
erpPanel([1801, 574, 2416, 865], erp1Si, erp1Sc);
erpPanel([2795, 578, 3410, 868], erp3Si, erp3Sc);
erpPanel([1805, 1213, 2419, 1509], erp2Si, erp2Sc);
erpPanel([2799, 1213, 3414, 1504], erp4Si, erp4Sc);
[[2122, 973, 1678, 712], [3114, 973, 2671, 712], [2122, 1615, 1678, 1355], [3114, 1615, 2671, 1355]].forEach(([lx, ly, ax, ay]) => {
    addText('Latency (ms)', lx, ly, 51, { anchor: 'middle' });
    addText('Amplitude (µV)', ax, ay, 52, { anchor: 'middle', rotate: -90 });
});

// panel c histogram
addText('i  Distribution of dummy t-values', 1406, 1900, 64, { color: '#333' });
axesPlot({
    rect: [1531, 2022, 2392, 2226], yW: 150, xH: 70,
    xRange: [0, 9], xTicks: histXTicks, xTickLen: 6, xTickWidth: 6, xTickPad: 12,
    xLabel: value => ({ 0: '0', 2.17: '2.17', 9: '9' }[value] || ''),
    // the 2500 label sits a little above the top of the frame
    yRange: [0, 2500], yTicks: [...histYTicks, 2640], yTickLen: 10, yTickPad: 28,
    yLabel: value => (value === 0 ? '0' : value === 2640 ? '2500' : ''),
    frameOpts: { frame: [10, 6], bands: [[0, 2.17]], bandColor: '#e3e3e3' },
    datasets: [
        {
            data: histBins.map((x, i) => ({ x, y: histCounts[i] })),
            stepped: 'middle', fill: 'origin', borderWidth: 0, backgroundColor: 'rgba(255, 100, 125, .75)'
        },
        {
            data: [{ x: 2.17, y: 0 }, { x: 2.17, y: 2500 }],
            borderColor: '#000', borderWidth: 6, borderDash: [20, 10], fill: false
        }
    ]
});
addText('Frequency', 1443, 2157, 51, { anchor: 'middle', rotate: -90 });
addText('absolurte t-value', 2012, 2301, 51, { anchor: 'middle' });
addText('p < 0.05', 1984, 2132, 38, { anchor: 'middle' });
addText('95% CI', 1552, 2188, 38, { color: '#fff' });

// panel c t-value traces
addText('ii  Cluster 1', 207, 2398, 64, { color: '#333' });
addText('iv  Cluster 3', 1399, 2398, 64, { color: '#333' });
addText('iii  Cluster 2', 200, 2908, 64, { color: '#333' });
addText('v  Cluster 4', 1399, 2908, 64, { color: '#333' });
tPanel([316, 2510, 1175, 2714], tClu1, tBandsClu1, 29);
tPanel([1538, 2510, 2398, 2714], tClu3, tBandsClu3, 29);
tPanel([320, 3009, 1181, 3213], tClu2, tBandsClu2, 34);
tPanel([1545, 3009, 2405, 3213], tClu4, tBandsClu4, 38);
[[754, 2807, 245, 2615], [1978, 2807, 1464, 2607], [766, 3315, 243, 3116], [1985, 3318, 1464, 3113]].forEach(([lx, ly, ax, ay]) => {
    addText('Latency (ms)', lx, ly, 51, { anchor: 'middle' });
    addText('t-value', ax, ay, 51, { anchor: 'middle', rotate: -90 });
});

addText('2.17', 1288, 2566, 44, { anchor: 'end' });
addText('-2.17', 1288, 2657, 44, { anchor: 'end' });
addText('2.17', 2512, 2563, 44, { anchor: 'end' });
addText('-2.17', 2512, 2655, 44, { anchor: 'end' });
addText('2.17', 1292, 3066, 44, { anchor: 'end' });
addText('-2.17', 1292, 3157, 44, { anchor: 'end' });
addText('2.17', 2515, 3071, 44, { anchor: 'end' });
addText('-2.17', 2515, 3154, 44, { anchor: 'end' });

// callouts over the t-value panels
const callouts = [
    { text: '376-432ms', cx: 1011, cy: 2421, arrow: '876,2430 858,2493 882,2510 829,2508 804,2460 829,2475' },
    { text: '376-800ms', cx: 2273, cy: 2436, arrow: '2154,2456 2134,2518 2157,2535 2105,2533 2079,2485 2105,2500' },
    { text: '316-484ms', cx: 976, cy: 2921, arrow: '869,2951 850,3015 874,3031 819,3027 796,2980 821,2995' },
    { text: '520-792ms', cx: 1240, cy: 2949, arrow: '1114,2963 1092,3027 1117,3043 1064,3041 1039,2993 1065,3007' },
    { text: '344-800ms', cx: 2277, cy: 2942, arrow: '2154,2963 2135,3027 2157,3043 2106,3041 2080,2993 2106,3007' }
];
const overlay = callouts.map(c => `
    <polygon points="${c.arrow}" fill="#e00000"/>
    <ellipse cx="${c.cx}" cy="${c.cy}" rx="125" ry="43" fill="#e00000"/>
    <text x="${c.cx + 5}" y="${c.cy + 14}" font-size="38" font-weight="bold" fill="#fff" text-anchor="middle" font-family='${FONT}'>${c.text}</text>`).join('');
page.insertAdjacentHTML('beforeend', `<svg width="3736" height="3374" xmlns="http://www.w3.org/2000/svg">${overlay}
    <polygon points="333,463 378,522 355,522 332,626 312,522 287,522" fill="#000"/>
    <polygon points="3229,2121 3246,2142 3236,2143 3229,2179 3223,2143 3213,2142" fill="#000"/>
</svg>`);

// panel d
legendDot(2711, 2135, '#008be8', 74, 71);
legendDot(2711, 2225, '#e60000', 74, 72);
legendDot(2711, 2316, '#ffc400', 78, 75);
addText('Cluster 2', 2785, 2132, 51);
addText('Cluster 3', 2785, 2228, 51);
addText('Cluster 4', 2785, 2319, 51);
addText('Left anterior', 3167, 2075, 23);
addText('site', 3167, 2098, 23);
capChart(3193, 2054, 432, 486, {
    green: electrodeSprite(37, 31, null),
    red: electrodeSprite(37, 31, '#e60000', 25, 24),
    blue: electrodeSprite(37, 31, '#008be8', 25, 24),
    yellow: electrodeSprite(37, 31, '#ffc400', 25, 24)
});
topoChart(2714, 2469, topoEarly);
topoChart(3128, 2469, topoLate);
addText('316-484ms', 2907, 3037, 64.5, { anchor: 'middle' });
addText('520-792ms', 3332, 3037, 64.5, { anchor: 'middle' });
colorBar([2736, 3142, 3084, 3182], [-1, 1], [-1, -.8, -.6, -.4, -.2, 0, .2, .4, .6, .8, .88],
    { '-1': '-1.0', 0: '0', .88: '+1.0' }, [-1, .88]);
colorBar([3156, 3138, 3505, 3179], [-1.47, 1.47], [-1, -.5, 0, .5, 1],
    { '-1': '-1.0', 0: '0', 1: '+1.0' }, []);
addText('Amplitude (µV)', 2914, 3283, 51, { anchor: 'middle' });
addText('Amplitude (µV)', 3341, 3284, 51, { anchor: 'middle' });
</script>
</body>
</html>
